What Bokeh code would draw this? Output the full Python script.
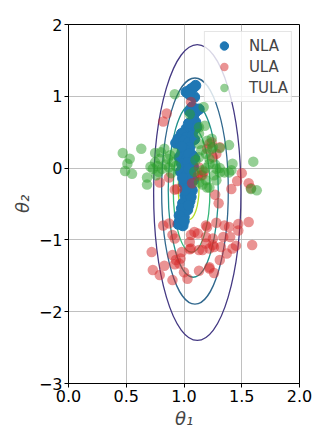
from bokeh.plotting import figure
from bokeh.models import FixedTicker, Legend
from bokeh.embed import file_html
from bokeh.resources import INLINE

# ---- data ----
nla_x = [1.02, 1.06, 1.10, 1.09, 1.04, 1.08, 1.05,
         1.07, 1.10, 1.13, 1.08, 1.05,
         1.10, 1.06, 1.02, 1.08, 1.04, 1.11,
         0.98, 0.95, 0.93, 0.97, 1.02, 1.07, 1.00, 1.04, 1.09,
         1.05, 0.99, 0.96, 1.02, 1.07, 1.01, 1.04, 1.09, 0.98,
         1.05, 1.00, 1.06, 0.98, 1.03, 1.08, 0.97, 1.02, 1.04,
         1.02, 1.05, 1.08, 1.00, 1.06, 1.03, 0.99,
         1.04, 1.07, 1.01, 1.03, 1.05, 0.99, 1.06, 1.01,
         1.02, 0.98, 1.00, 1.01, 1.03, 0.98, 1.04, 0.96,
         0.96, 0.99, 0.97, 0.95, 1.00]
nla_y = [1.06, 1.10, 1.15, 0.99, 1.07, 1.12, 1.02,
         0.85, 0.78, 0.82, 0.72, 0.79,
         0.64, 0.58, 0.55, 0.52, 0.62, 0.57,
         0.48, 0.41, 0.35, 0.34, 0.43, 0.45, 0.38, 0.36, 0.40,
         0.29, 0.22, 0.15, 0.12, 0.18, 0.26, 0.20, 0.14, 0.30,
         0.03, -0.03, -0.08, 0.06, 0.08, 0.02, -0.05, -0.10, -0.01,
         -0.17, -0.26, -0.17, -0.22, -0.13, -0.28, -0.14,
         -0.33, -0.31, -0.38, -0.42, -0.46, -0.49, -0.40, -0.31,
         -0.54, -0.63, -0.68, -0.59, -0.58, -0.56, -0.52, -0.66,
         -0.75, -0.80, -0.71, -0.78, -0.74]

ula_x = [0.85, 0.82, 1.06,
         1.22, 1.31, 1.20, 1.28, 1.25, 1.24, 1.13,
         0.79, 0.87, 0.94, 1.12, 1.07, 1.15, 1.17, 0.92,
         1.50, 1.46, 1.41, 1.56, 1.58, 1.27, 1.30, 1.16,
         0.82, 0.87, 0.90, 1.06, 1.05, 1.12, 1.20, 1.19, 1.06, 1.13, 1.22, 1.26,
         0.72, 0.90, 0.98, 0.93, 0.96, 0.83, 0.73, 0.79, 0.90, 1.00, 1.03, 1.22,
         1.19, 1.28, 1.35, 1.39, 1.47, 1.56, 1.47, 1.34, 1.40, 1.25, 1.32, 1.42,
         1.45, 1.19, 1.16, 1.31, 1.22, 1.26, 1.59, 1.37,
         1.09, 0.92, 0.97, 0.92, 1.13, 1.05, 1.25]
ula_y = [0.76, 0.65, 0.92,
         0.34, 0.29, 0.27, 0.20, 0.15, 0.36, 0.01,
         -0.20, -0.13, -0.29, -0.11, -0.21, -0.10, -0.05, -0.30,
         -0.07, -0.18, -0.29, -0.21, -0.28, -0.37, -0.49, -0.10,
         -0.80, -0.77, -0.93, -0.93, -1.03, -0.91, -0.82, -0.96, -1.12, -1.14, -1.12, -1.10,
         -1.17, -1.21, -1.17, -1.28, -1.33, -1.36, -1.42, -1.49, -1.56, -1.45, -1.54, -1.40,
         -0.80, -0.76, -0.80, -0.82, -0.78, -0.75, -0.87, -0.96, -0.96, -1.07, -1.10, -1.12,
         -1.08, -1.05, -1.14, -1.28, -1.38, -1.46, -1.07, -1.19,
         -0.89, -0.98, -1.26, -1.34, -1.43, -1.13, -0.98]

tula_x = [0.47, 0.53, 0.51, 0.49, 0.55, 0.63, 0.68, 0.68, 0.75, 0.77,
          0.79, 0.83, 0.86, 0.87, 0.73, 0.75, 0.81, 0.92, 0.90, 0.89,
          0.71, 0.84, 0.78, 0.88, 0.80, 0.93, 0.76,
          0.92, 1.17, 1.05, 1.18, 1.13, 1.13,
          1.39, 1.24, 1.25, 1.13, 1.19, 1.13, 1.22, 1.28, 1.16, 1.31,
          1.39, 1.42, 1.60, 1.63, 1.58, 1.19, 1.22, 1.13, 1.28, 1.10,
          1.31, 1.22, 1.19, 1.26, 1.20, 1.16, 1.35, 1.41, 1.31, 1.24,
          1.20, 1.15, 1.27, 1.09]
tula_y = [0.21, 0.13, 0.06, -0.04, -0.08, 0.27, -0.13, -0.23, 0.21, 0.03,
          0.13, 0.27, 0.13, 0.01, -0.01, 0.08, -0.01, 0.21, 0.08, -0.07,
          0.02, 0.05, -0.05, 0.18, 0.22, 0.03, -0.10,
          1.03, 0.85, 0.75, 0.59, 0.48, 0.57,
          0.32, 0.41, 0.29, 0.34, 0.20, 0.15, 0.06, -0.01, -0.03, -0.06,
          -0.06, 0.06, 0.09, -0.31, -0.29, -0.17, -0.27, -0.20, -0.17, 0.11,
          0.28, 0.13, 0.00, -0.10, -0.27, -0.23, -0.06, -0.03, 0.00, 0.27,
          0.38, 0.25, 0.05, -0.05]

# density contour levels approximated as ellipses (outer -> inner)
contour_cx = [1.115, 1.095, 1.08, 1.066, 1.04]
contour_cy = [-0.34, -0.32, -0.31, -0.30, -0.28]
contour_w = [0.756, 0.577, 0.433, 0.318, 0.18]
contour_h = [4.12, 3.15, 2.42, 1.74, 0.88]
contour_colors = ["#443983", "#31688e", "#21918c", "#35b779", "#b5de2b"]

x_ticks = [0, 0.5, 1, 1.5, 2]
x_tick_labels = ["0.0", "0.5", "1.0", "1.5", "2.0"]
y_ticks = [-3, -2, -1, 0, 1, 2]
y_tick_labels = ["\u22123", "\u22122", "\u22121", "0", "1", "2"]

FONT = "DejaVu Sans"

p = figure(frame_width=231, frame_height=359, x_range=(0, 2), y_range=(-3, 2),
           output_backend="svg", toolbar_location=None,
           min_border_left=68, min_border_right=14, min_border_top=24, min_border_bottom=40)

p.ellipse(x=contour_cx, y=contour_cy, width=contour_w, height=contour_h,
          fill_alpha=0, line_color=contour_colors, line_width=1.3)

r1 = p.scatter(nla_x, nla_y, size=10.5, fill_color="#1f77b4", line_color="#1f77b4",
               fill_alpha=1.0, line_alpha=1.0)
r2 = p.scatter(ula_x, ula_y, size=10.5, fill_color="#d62728", line_color="#d62728",
               fill_alpha=0.5, line_alpha=0.0)
r3 = p.scatter(tula_x, tula_y, size=10.5, fill_color="#2ca02c", line_color="#2ca02c",
               fill_alpha=0.5, line_alpha=0.0)

legend = Legend(items=[("NLA", [r1]), ("ULA", [r2]), ("TULA", [r3])],
                location="top_right")
legend.margin = 7
legend.padding = 3
legend.spacing = 0
legend.glyph_width = 32
legend.glyph_height = 21
legend.label_standoff = 9
legend.label_text_font = FONT
legend.label_text_font_size = "15px"
legend.border_line_color = "#cccccc"
legend.background_fill_alpha = 0.8
p.add_layout(legend)

for ax in (p.xaxis[0], p.yaxis[0]):
    ax.major_label_text_font = FONT
    ax.major_label_text_font_size = "16px"
    ax.major_label_text_color = "black"
    ax.axis_label_text_font = FONT
    ax.axis_label_text_font_size = "18px"
    ax.axis_label_text_font_style = "italic"
    ax.minor_tick_line_color = None
    ax.major_tick_in = 0
    ax.major_tick_out = 4
    ax.major_label_standoff = 2
    ax.axis_label_standoff = 3
    ax.axis_line_color = "black"
    ax.major_tick_line_color = "black"

p.xaxis.ticker = FixedTicker(ticks=x_ticks)
p.yaxis.ticker = FixedTicker(ticks=y_ticks)
p.xaxis.major_label_overrides = dict(zip(x_ticks, x_tick_labels))
p.yaxis.major_label_overrides = dict(zip(y_ticks, y_tick_labels))
p.xaxis.axis_label = "\u03b8\u2081"
p.yaxis.axis_label = "\u03b8\u2082"

p.grid.grid_line_color = "#b0b0b0"
p.grid.grid_line_alpha = 0.8
p.grid.grid_line_width = 1
p.outline_line_color = "black"
p.outline_line_alpha = 1
p.background_fill_color = "white"
p.border_fill_color = "white"

open("out.html", "w").write(file_html(p, INLINE))
